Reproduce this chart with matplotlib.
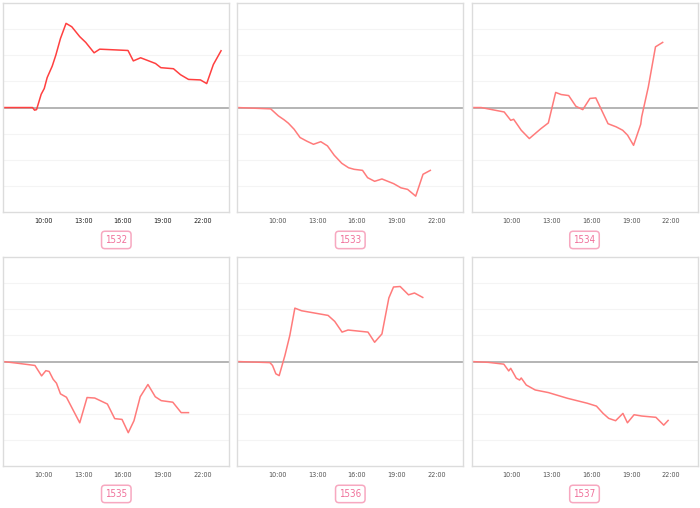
import numpy as np
import matplotlib
matplotlib.use('Agg')
import matplotlib.pyplot as plt
from matplotlib import font_manager

# labels of the six small charts
names = ['1532', '1533', '1534', '1535', '1536', '1537']
tick_hours = [10, 13, 16, 19, 22]
tick_labels = ['10:00', '13:00', '16:00', '19:00', '22:00']

# time (hours) and value for each panel
t1532 = [7.0, 9.2, 9.35, 9.5, 9.85, 10.08, 10.3, 10.68, 10.95, 11.3, 11.72, 12.15, 12.75, 13.2,
         13.83, 14.25, 16.38, 16.78, 17.33, 18.45, 18.85, 19.8, 20.33, 20.93, 21.83, 22.3, 22.8, 23.38]
v1532 = [0, 0, -0.1, -0.08, 0.51, 0.73, 1.15, 1.59, 2.01, 2.65, 3.23, 3.1, 2.72, 2.5,
         2.1, 2.24, 2.19, 1.79, 1.91, 1.69, 1.53, 1.49, 1.26, 1.08, 1.06, 0.92, 1.65, 2.18]

t1533 = [7.0, 9.51, 10.09, 10.52, 10.84, 11.27, 11.72, 12.23, 12.73, 13.28, 13.78, 14.29, 14.86,
         15.37, 15.79, 16.42, 16.8, 17.33, 17.88, 18.76, 19.31, 19.81, 20.42, 20.97, 21.52]
v1533 = [0, -0.05, -0.32, -0.47, -0.6, -0.83, -1.15, -1.29, -1.41, -1.31, -1.47, -1.83, -2.14,
         -2.31, -2.37, -2.41, -2.69, -2.83, -2.74, -2.92, -3.08, -3.14, -3.4, -2.56, -2.41]

t1534 = [7.0, 7.73, 9.46, 9.95, 10.17, 10.74, 11.35, 12.22, 12.78, 13.33, 13.74, 14.31, 14.85,
         15.37, 15.91, 16.35, 17.27, 17.88, 18.37, 18.74, 19.19, 19.73, 19.8, 20.3, 20.84, 21.38]
v1534 = [0, 0, -0.17, -0.49, -0.45, -0.87, -1.19, -0.81, -0.59, 0.58, 0.5, 0.46, 0.05,
         -0.08, 0.35, 0.37, -0.62, -0.74, -0.87, -1.06, -1.45, -0.64, -0.36, 0.79, 2.33, 2.5]

t1535 = [7.0, 8.0, 9.38, 9.88, 10.2, 10.45, 10.75, 11.0, 11.3, 11.75, 12.75, 13.3, 13.88, 14.83,
         15.38, 15.93, 16.4, 16.83, 17.3, 17.88, 18.43, 18.88, 19.75, 20.38, 20.93]
v1535 = [0, -0.06, -0.15, -0.55, -0.35, -0.38, -0.68, -0.83, -1.24, -1.37, -2.35, -1.38, -1.4, -1.63,
         -2.19, -2.22, -2.73, -2.27, -1.35, -0.88, -1.35, -1.5, -1.56, -1.96, -1.96]

t1536 = [7.0, 9.45, 9.65, 9.9, 10.15, 10.58, 10.95, 11.33, 11.83, 13.83, 14.33, 14.88, 15.33,
         16.83, 17.33, 17.88, 18.4, 18.75, 19.25, 19.88, 20.33, 20.95]
v1536 = [0, -0.04, -0.15, -0.47, -0.54, 0.23, 1.0, 2.05, 1.95, 1.77, 1.54, 1.13, 1.21,
         1.13, 0.74, 1.06, 2.44, 2.86, 2.88, 2.56, 2.63, 2.46]

t1537 = [7.0, 8.26, 9.43, 9.8, 9.95, 10.37, 10.62, 10.74, 11.12, 11.79, 12.78, 14.22, 15.71, 16.4,
         16.9, 17.32, 17.84, 18.39, 18.73, 19.23, 19.8, 20.87, 21.46, 21.79]
v1537 = [0, -0.03, -0.1, -0.36, -0.26, -0.64, -0.71, -0.63, -0.9, -1.09, -1.19, -1.41, -1.6, -1.71,
         -1.99, -2.18, -2.27, -1.99, -2.35, -2.04, -2.09, -2.14, -2.44, -2.26]

times = [t1532, t1533, t1534, t1535, t1536, t1537]
values = [v1532, v1533, v1534, v1535, v1536, v1537]
line_colors = ['#ff4040', '#ff7b7b', '#ff7b7b', '#ff7b7b', '#ff7b7b', '#ff7b7b']
tick_colors = ['#222222', '#555555', '#555555', '#555555', '#555555', '#555555']

# a regular-weight condensed face looks closest; plain sans if none is around
narrow = [f for f in font_manager.fontManager.ttflist
          if ('Narrow' in f.name or f.stretch in ('condensed', 'semi-condensed'))
          and f.weight in (400, 'normal', 'regular', 'book') and f.style == 'normal']
if narrow:
    fprop = font_manager.FontProperties(fname=narrow[0].fname)
    tick_fs, lab_fs = 5.2, 7.0
else:
    fprop = font_manager.FontProperties(family='Liberation Sans')
    tick_fs, lab_fs = 4.9, 6.8

fig = plt.figure(figsize=(7, 5.08), dpi=100)
W, H = 700., 508.
lefts = [3.3, 237.3, 471.5]
tops = [3.3, 257.3]
pw, ph = 226., 208.5

for k in range(6):
    row, col = divmod(k, 3)
    ax = fig.add_axes([lefts[col] / W, 1 - (tops[row] + ph) / H, pw / W, ph / H])
    ax.set_xlim(7, 24)
    ax.set_ylim(-4, 4)
    for yy in [-3, -2, -1, 1, 2, 3]:
        ax.axhline(yy, color='#f4f4f4', lw=0.8, zorder=0)
    ax.axhline(0, color='#b4b4b4', lw=1.4, zorder=1)
    ax.plot(times[k], values[k], color=line_colors[k], lw=1.1, zorder=2)
    ax.set_xticks(tick_hours)
    ax.set_xticklabels(tick_labels, color=tick_colors[k])
    for lab in ax.get_xticklabels():
        lab.set_fontproperties(fprop)
        lab.set_fontsize(tick_fs)
    ax.tick_params(axis='x', length=0, pad=4.5)
    ax.set_yticks([])
    for s in ax.spines.values():
        s.set_color('#dcdcdc')
        s.set_linewidth(1.0)
    ax.text(0.5, -0.135, names[k], transform=ax.transAxes, ha='center', va='center',
            fontproperties=fprop, fontsize=lab_fs, color='#f0709a',
            bbox=dict(boxstyle='round,pad=0.38,rounding_size=0.35', fc='white',
                      ec='#f7a8c0', lw=1.1))

fig.savefig('out.png', dpi=100)
